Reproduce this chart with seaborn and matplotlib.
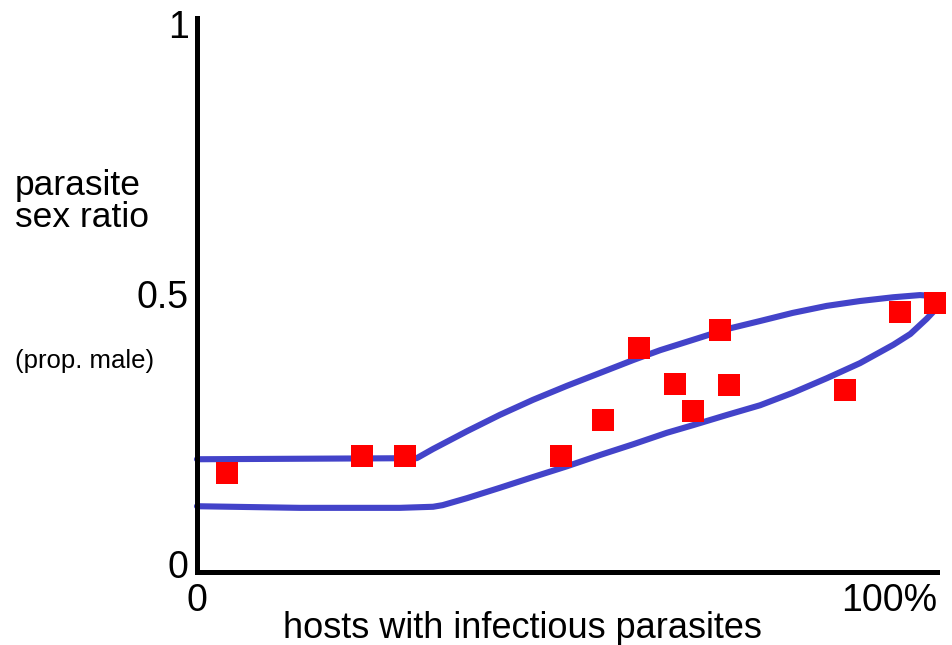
import matplotlib
matplotlib.use("Agg")
import matplotlib.pyplot as plt
import numpy as np
import pandas as pd
import seaborn as sns

# observed points: % hosts with infectious parasites vs proportion male
hosts_pct = [4.1, 22.3, 28.1, 49.2, 54.9, 59.7, 64.6, 67.0, 70.7, 71.9, 87.6, 95.0, 99.7]
sex_ratio = [0.169, 0.200, 0.200, 0.200, 0.267, 0.400, 0.333, 0.283, 0.433, 0.331, 0.322, 0.467, 0.483]

# hand-drawn envelope: upper branch out to the tip, lower branch back
upper_x = [0, 29.7, 31.9, 36.5, 40.9, 45.4, 50.0, 54.5, 59.0, 62.6, 67.0, 71.6, 76.1,
           80.5, 85.1, 89.6, 94.1, 97.7, 99.7, 100.4]
upper_y = [0.194, 0.196, 0.213, 0.246, 0.276, 0.304, 0.330, 0.354, 0.378, 0.396, 0.415,
           0.435, 0.450, 0.465, 0.478, 0.487, 0.494, 0.498, 0.496, 0.485]
lower_x = [100.4, 99.7, 98.6, 96.4, 94.1, 89.6, 85.1, 80.5, 76.1, 71.6, 67.0, 63.5, 59.0,
           54.5, 50.0, 45.4, 40.9, 36.5, 33.2, 31.9, 27.4, 13.9, 0]
lower_y = [0.485, 0.470, 0.454, 0.426, 0.406, 0.372, 0.344, 0.317, 0.294, 0.276, 0.257,
           0.243, 0.222, 0.202, 0.181, 0.161, 0.141, 0.122, 0.109, 0.106, 0.104, 0.104, 0.107]

y_ticks = [0, 0.5, 1]
y_labels = ["0", "0.5", "1"]
x_ticks = [0, 100]
x_labels = ["0", "100%"]

sns.set_style("white")
plt.rcParams["font.family"] = ["Liberation Sans", "DejaVu Sans"]
plt.rcParams["text.color"] = "black"
plt.rcParams["xtick.color"] = "black"
plt.rcParams["ytick.color"] = "black"

fig = plt.figure(figsize=(9.52, 6.45), dpi=100)
ax = fig.add_axes([197 / 952, 73 / 645, 740 / 952, 554 / 645])

blue = "#4343c9"
env = pd.DataFrame({"x": upper_x + lower_x[1:], "y": upper_y + lower_y[1:]})
sns.lineplot(data=env, x="x", y="y", sort=False, estimator=None, color=blue,
             linewidth=4.4, ax=ax, solid_capstyle="round", solid_joinstyle="round")
for ln in ax.lines:
    ln.set_clip_on(False)

pts = pd.DataFrame({"hosts": hosts_pct, "ratio": sex_ratio})
sns.scatterplot(data=pts, x="hosts", y="ratio", marker="s", s=230, color="#ff0000",
                linewidth=0, ax=ax, clip_on=False, zorder=3)

ax.set_xlim(0, 100)
ax.set_ylim(-0.0148, 1.0111)
ax.set_yticks(y_ticks)
ax.set_yticklabels(y_labels, fontsize=27)
ax.set_xticks(x_ticks)
ax.set_xticklabels(x_labels, fontsize=27)
ax.xaxis.get_majorticklabels()[1].set_horizontalalignment("right")
ax.tick_params(length=0, pad=8)
ax.tick_params(axis="y", pad=6)

for side in ["top", "right"]:
    ax.spines[side].set_visible(False)
for side in ["left", "bottom"]:
    ax.spines[side].set_linewidth(3.6)
    ax.spines[side].set_color("black")

ax.set_xlabel("")
ax.set_ylabel("")
fig.text(522 / 952, 1 - 638 / 645, "hosts with infectious parasites", fontsize=26,
         ha="center", va="baseline")
fig.text(15 / 952, 1 - 227 / 645, "parasite\nsex ratio", fontsize=25.5, ha="left",
         va="baseline", linespacing=0.95)
fig.text(15 / 952, 1 - 368 / 645, "(prop. male)", fontsize=18.5, ha="left", va="baseline")

fig.savefig("out.png", dpi=100)
